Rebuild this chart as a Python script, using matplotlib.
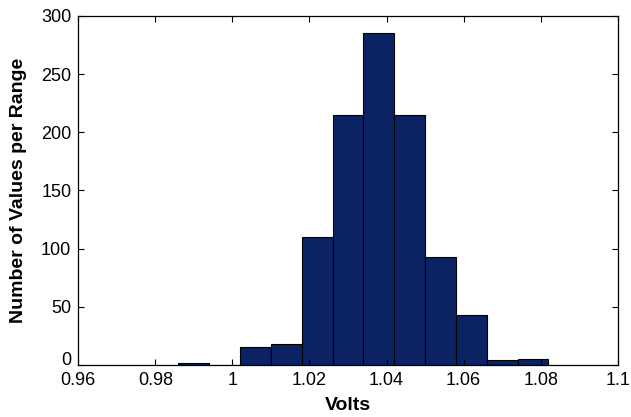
import matplotlib.pyplot as plt
import matplotlib.transforms as mtransforms
import numpy as np

plt.rcParams['font.family'] = ['Liberation Sans', 'DejaVu Sans']

# histogram bins (centres, volts) and counts per bin
bin_centers = [0.990, 0.998, 1.006, 1.014, 1.022, 1.030, 1.038,
               1.046, 1.054, 1.062, 1.070, 1.078]
counts = [2, 0, 15, 18, 110, 215, 285, 215, 93, 43, 4, 5]
bin_width = 0.008

x_ticks = [0.96, 0.98, 1.0, 1.02, 1.04, 1.06, 1.08, 1.1]
x_ticklabels = ['0.96', '0.98', '1', '1.02', '1.04', '1.06', '1.08', '1.1']
y_ticks = [0, 50, 100, 150, 200, 250, 300]

fig = plt.figure(figsize=(6.31, 4.17), dpi=100)
ax = fig.add_axes([0.124, 0.125, 0.855, 0.837])

ax.bar(bin_centers, counts, width=bin_width, color='#0b2263',
       edgecolor='black', linewidth=0.8)

ax.set_xlim(0.96, 1.1)
ax.set_ylim(0, 300)
ax.set_xticks(x_ticks)
ax.set_xticklabels(x_ticklabels)
ax.set_yticks(y_ticks)
ax.tick_params(direction='in', top=True, right=True, length=4,
               labelsize=13)
ax.tick_params(axis='x', pad=5)
ax.tick_params(axis='y', pad=5)
for s in ax.spines.values():
    s.set_linewidth(0.9)

# the "0" y label sits a little above the corner, as in the original
zero_lab = ax.get_yticklabels()[0]
zero_lab.set_transform(zero_lab.get_transform() +
                       mtransforms.ScaledTranslation(0, 6 / 100, fig.dpi_scale_trans))

ax.set_xlabel('Volts', fontsize=14, fontweight='bold', labelpad=6)
ax.set_ylabel('Number of Values per Range', fontsize=14,
              fontweight='bold', labelpad=10)

fig.savefig('out.png', dpi=100)
